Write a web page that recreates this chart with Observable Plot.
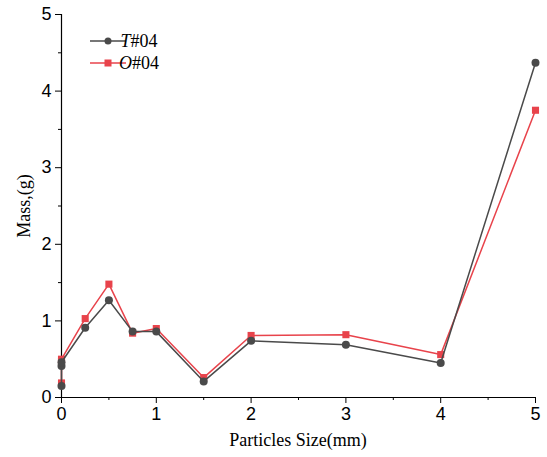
<!DOCTYPE html>
<html>
<head>
<meta charset="utf-8">
<script src="https://cdn.jsdelivr.net/npm/d3@7"></script>
<script src="https://cdn.jsdelivr.net/npm/@observablehq/plot@0.6"></script>
<style>
body { margin: 0; background: #fff; }
</style>
</head>
<body>
<div id="chart"></div>
<script>
const sizes = [0, 0, 0, 0.25, 0.5, 0.75, 1, 1.5, 2, 3, 4, 5];
const massT = [0.15, 0.41, 0.46, 0.91, 1.27, 0.86, 0.86, 0.21, 0.74, 0.69, 0.45, 4.37];
const massO = [0.19, 0.47, 0.50, 1.03, 1.48, 0.84, 0.90, 0.26, 0.81, 0.82, 0.56, 3.75];
const seriesNames = ["T#04", "O#04"];
const xMajor = [0, 1, 2, 3, 4, 5];
const xMinor = [0.5, 1.5, 2.5, 3.5, 4.5];
const yMajor = [0, 1, 2, 3, 4, 5];
const yMinor = [0.5, 1.5, 2.5, 3.5, 4.5];

const colT = "#4a4a4a";
const colO = "#e8434b";

const dataT = sizes.map((x, i) => ({x, y: massT[i]}));
const dataO = sizes.map((x, i) => ({x, y: massO[i]}));

const chart = Plot.plot({
  width: 547,
  height: 457,
  marginLeft: 61,
  marginRight: 12,
  marginTop: 14,
  marginBottom: 60,
  x: {domain: [0, 5]},
  y: {domain: [0, 5]},
  style: {fontFamily: "'Liberation Sans', Arial, sans-serif", fontSize: "18px", color: "#000", background: "#fff"},
  marks: [
    Plot.axisX({ticks: xMajor, tickSize: 6, tickPadding: 4, label: null, tickFormat: d3.format("d"), stroke: "#000"}),
    Plot.axisX({ticks: xMinor, tickSize: 3, text: null, label: null, stroke: "#000"}),
    Plot.axisY({ticks: yMajor, tickSize: 6, tickPadding: 4, label: null, tickFormat: d3.format("d"), stroke: "#000"}),
    Plot.axisY({ticks: yMinor, tickSize: 3, text: null, label: null, stroke: "#000"}),
    Plot.ruleX([0], {stroke: "#000", strokeWidth: 1.2}),
    Plot.ruleY([0], {stroke: "#000", strokeWidth: 1.2}),
    Plot.line(dataO, {x: "x", y: "y", stroke: colO, strokeWidth: 1.5}),
    Plot.dot(dataO, {x: "x", y: "y", symbol: "square", r: 4, fill: colO}),
    Plot.line(dataT, {x: "x", y: "y", stroke: colT, strokeWidth: 1.5}),
    Plot.dot(dataT, {x: "x", y: "y", symbol: "circle", r: 4, fill: colT})
  ]
});

document.getElementById("chart").appendChild(chart);

const svg = d3.select(chart);
svg.selectAll("g[aria-label$='tick label']").attr("font-size", 18).selectAll("text").attr("font-size", 18);

const serif = "'Liberation Serif', 'Times New Roman', serif";
// axis labels
svg.append("text")
  .attr("x", 298).attr("y", 446)
  .attr("text-anchor", "middle")
  .attr("font-family", serif).attr("font-size", 18)
  .text("Particles Size(mm)");
svg.append("text")
  .attr("transform", "translate(30,206) rotate(-90)")
  .attr("text-anchor", "middle")
  .attr("font-family", serif).attr("font-size", 18)
  .text("Mass,(g)");

// legend
const leg = [
  {name: seriesNames[0], color: colT, sym: "circle", y: 41},
  {name: seriesNames[1], color: colO, sym: "square", y: 63}
];
leg.forEach(d => {
  const g = svg.append("g");
  g.append("line").attr("x1", 90).attr("x2", 126).attr("y1", d.y).attr("y2", d.y)
    .attr("stroke", d.color).attr("stroke-width", 1.5);
  if (d.sym === "circle") g.append("circle").attr("cx", 108).attr("cy", d.y).attr("r", 3.5).attr("fill", d.color);
  else g.append("rect").attr("x", 104.5).attr("y", d.y - 3.5).attr("width", 7).attr("height", 7).attr("fill", d.color);
  const t = g.append("text").attr("x", 139).attr("y", d.y + 6)
    .attr("font-family", serif).attr("font-size", 18).attr("fill", "#000");
  t.append("tspan").attr("font-style", "italic").text(d.name[0]);
  t.append("tspan").text(d.name.slice(1));
});
</script>
</body>
</html>
